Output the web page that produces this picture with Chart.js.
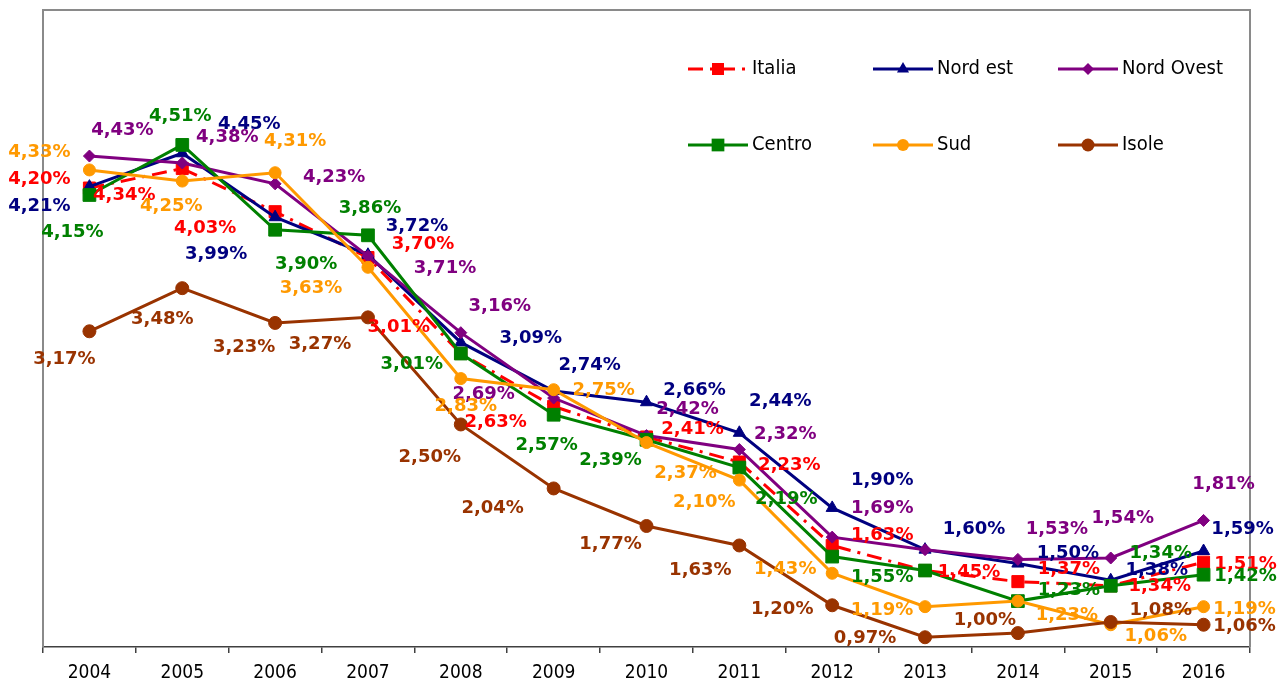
<!DOCTYPE html>
<html>
<head>
<meta charset="utf-8">
<script src="https://cdn.jsdelivr.net/npm/chart.js@4.4.1/dist/chart.umd.min.js"></script>
<style>
    html, body { margin: 0; padding: 0; background: #fff; }
    canvas { display: block; }
</style>
</head>
<body>
<canvas id="chart" width="1278" height="684"></canvas>
<script>
const years = ['2004', '2005', '2006', '2007', '2008', '2009', '2010', '2011', '2012', '2013', '2014', '2015', '2016'];

const italia    = [4.20, 4.34, 4.03, 3.70, 3.01, 2.63, 2.41, 2.23, 1.63, 1.45, 1.37, 1.34, 1.51];
const nordEst   = [4.21, 4.45, 3.99, 3.72, 3.09, 2.74, 2.66, 2.44, 1.90, 1.60, 1.50, 1.38, 1.59];
const nordOvest = [4.43, 4.38, 4.23, 3.71, 3.16, 2.69, 2.42, 2.32, 1.69, 1.60, 1.53, 1.54, 1.81];
const centro    = [4.15, 4.51, 3.90, 3.86, 3.01, 2.57, 2.39, 2.19, 1.55, 1.45, 1.23, 1.34, 1.42];
const sud       = [4.33, 4.25, 4.31, 3.63, 2.83, 2.75, 2.37, 2.10, 1.43, 1.19, 1.23, 1.06, 1.19];
const isole     = [3.17, 3.48, 3.23, 3.27, 2.50, 2.04, 1.77, 1.63, 1.20, 0.97, 1.00, 1.08, 1.06];

const yMin = 0.9;
const yMax = 5.48;

// where each value label sits, relative to its point (null = label hidden behind another)
const italiaLabelPos    = [[-50,-9],[-58,27],[-70,17],[55,-13],[-62,-26],[-58,16],[46,-8],[50,3],[50,-10],[44,2],[51,-12],[49,1],[42,2]];
const nordEstLabelPos   = [[-50,20],[67,-29],[-59,37],[49,-28],[70,-4],[36,-26],[48,-12],[41,-31],[50,-28],[49,-20],[50,-10],[46,-10],[39,-22]];
const nordOvestLabelPos = [[33,-26],[45,-26],[59,-7],[77,12],[39,-26],[-70,-4],[41,-26],[46,-15],[50,-29],null,[39,-30],[12,-40],[20,-36]];
const centroLabelPos    = [[-17,37],[-2,-29],[31,35],[2,-27],[-49,11],[-7,31],[-36,21],[47,32],[50,21],null,[51,-11],[50,-32],[42,2]];
const sudLabelPos       = [[-50,-18],[-11,25],[20,-31],[-57,21],[5,28],[50,1],[39,31],[-35,22],[-47,-4],[-43,4],[49,14],[45,12],[41,3]];
const isoleLabelPos     = [[-25,28],[-20,31],[-31,24],[-48,27],[-31,33],[-61,20],[-36,18],[-39,25],[-50,4],[-60,1],[-33,-13],[50,-12],[41,2]];

const series = [
    { label: 'Italia',     data: italia,    color: '#FF0000', dash: [15, 7, 3, 7], marker: 'rect',     radius: 8.5, labels: italiaLabelPos },
    { label: 'Nord est',   data: nordEst,   color: '#000080', dash: [],            marker: 'triangle', radius: 7,   labels: nordEstLabelPos },
    { label: 'Nord Ovest', data: nordOvest, color: '#800080', dash: [],            marker: 'rectRot',  radius: 6,   labels: nordOvestLabelPos },
    { label: 'Centro',     data: centro,    color: '#008000', dash: [],            marker: 'rect',     radius: 9,   labels: centroLabelPos },
    { label: 'Sud',        data: sud,       color: '#FF9900', dash: [],            marker: 'circle',   radius: 6,   labels: sudLabelPos },
    { label: 'Isole',      data: isole,     color: '#993300', dash: [],            marker: 'circle',   radius: 6.5, labels: isoleLabelPos }
];

const fmt = v => v.toFixed(2).replace('.', ',') + '%';

function drawMarker(ctx, style, r, x, y) {
    ctx.beginPath();
    if (style === 'rect') {
        const s = r * Math.SQRT1_2;
        ctx.rect(x - s, y - s, 2 * s, 2 * s);
    } else if (style === 'triangle') {
        ctx.moveTo(x, y - r);
        ctx.lineTo(x + r * 0.866, y + r * 0.5);
        ctx.lineTo(x - r * 0.866, y + r * 0.5);
        ctx.closePath();
    } else if (style === 'rectRot') {
        ctx.moveTo(x, y - r);
        ctx.lineTo(x + r, y);
        ctx.lineTo(x, y + r);
        ctx.lineTo(x - r, y);
        ctx.closePath();
    } else {
        ctx.arc(x, y, r, 0, Math.PI * 2);
    }
    ctx.fill();
}

// gray frame: left, top and right edges of the plot
const framePlugin = {
    id: 'frame',
    beforeDatasetsDraw(chart) {
        const { ctx, chartArea: a } = chart;
        ctx.save();
        ctx.strokeStyle = '#8a8a8a';
        ctx.lineWidth = 2;
        ctx.beginPath();
        ctx.moveTo(a.left, a.bottom);
        ctx.lineTo(a.left, a.top);
        ctx.lineTo(a.right, a.top);
        ctx.lineTo(a.right, a.bottom);
        ctx.stroke();
        ctx.restore();
    }
};

const valueLabels = {
    id: 'valueLabels',
    afterDatasetsDraw(chart) {
        const ctx = chart.ctx;
        ctx.save();
        ctx.font = 'bold 18px "DejaVu Sans"';
        ctx.textAlign = 'center';
        ctx.textBaseline = 'middle';
        series.forEach((s, i) => {
            const meta = chart.getDatasetMeta(i);
            meta.data.forEach((pt, j) => {
                const o = s.labels[j];
                if (!o) return;
                ctx.fillStyle = s.color;
                ctx.fillText(fmt(s.data[j]), pt.x + o[0], pt.y + o[1]);
            });
        });
        ctx.restore();
    }
};

// legend sits inside the plot, two rows of three
const innerLegend = {
    id: 'innerLegend',
    afterDraw(chart) {
        const ctx = chart.ctx;
        const cols = [688, 873, 1058];
        const rows = [69, 145];
        ctx.save();
        ctx.font = '20px "DejaVu Sans Condensed", "DejaVu Sans", sans-serif';
        ctx.textBaseline = 'middle';
        series.forEach((s, i) => {
            const x = cols[i % 3];
            const y = rows[Math.floor(i / 3)];
            ctx.strokeStyle = s.color;
            ctx.fillStyle = s.color;
            ctx.lineWidth = 3;
            ctx.setLineDash(s.dash);
            ctx.beginPath();
            ctx.moveTo(x, y);
            ctx.lineTo(x + 60, y);
            ctx.stroke();
            ctx.setLineDash([]);
            drawMarker(ctx, s.marker, s.radius, x + 30, y);
            ctx.fillStyle = '#000';
            ctx.fillText(s.label, x + 64, y);
        });
        ctx.restore();
    }
};

new Chart(document.getElementById('chart'), {
    type: 'line',
    data: {
        labels: years,
        datasets: series.map((s, i) => ({
            label: s.label,
            data: s.data,
            borderColor: s.color,
            backgroundColor: s.color,
            borderWidth: 3,
            borderDash: s.dash,
            pointStyle: s.marker,
            pointRadius: s.radius,
            pointBackgroundColor: s.color,
            pointBorderColor: s.color,
            pointBorderWidth: 1,
            tension: 0,
            fill: false,
            order: series.length - i   // later series on top, like the original
        }))
    },
    options: {
        responsive: false,
        devicePixelRatio: 1,
        animation: false,
        layout: { padding: { top: 10, right: 28, left: 43, bottom: 0 } },
        plugins: {
            legend: { display: false },
            tooltip: { enabled: false }
        },
        scales: {
            x: {
                offset: true,
                grid: {
                    offset: true,
                    drawOnChartArea: false,
                    tickLength: 6,
                    color: '#404040',
                    lineWidth: 1.5
                },
                border: { color: '#404040', width: 1.5 },
                ticks: {
                    color: '#000',
                    padding: 9,
                    font: { family: '"DejaVu Sans Condensed", "DejaVu Sans", sans-serif', size: 19 }
                },
                afterFit: s => { s.height = 37; }
            },
            y: {
                display: false,
                min: yMin,
                max: yMax
            }
        }
    },
    plugins: [framePlugin, valueLabels, innerLegend]
});
</script>
</body>
</html>
